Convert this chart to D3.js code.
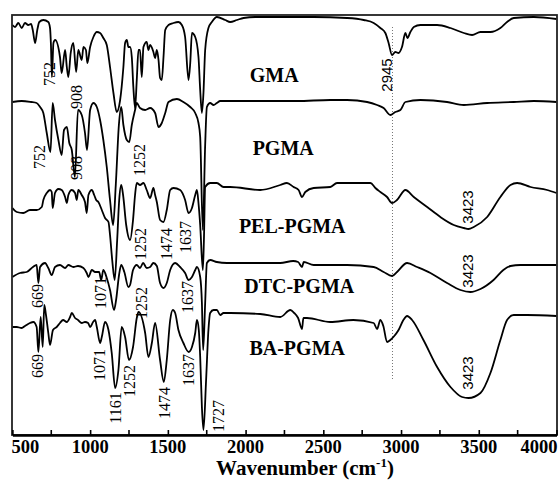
<!DOCTYPE html>
<html><head><meta charset="utf-8">
<script src="https://cdn.jsdelivr.net/npm/d3@7/dist/d3.min.js"></script>
<style>body{margin:0;background:#fff}svg{display:block}</style>
</head><body>
<script>
// ---- DATA: [wavenumber (cm-1), transmittance (a.u., stacked)] ----
const xTickValues = [500,1000,1500,2000,2500,3000,3500,4000];
const xMinorTicks = [750,1250,1750,2250,2750,3250,3750];
const sampleNames = ["GMA","PGMA","PEL-PGMA","DTC-PGMA","BA-PGMA"];
const refLine = 2945;

const GMA = [[500,410],[517,408],[538,412],[560,407],[581,412],[602,410],[620,411],[631,405],[646,392],[660,405],[673,413],[699,415],[731,413],[742,407],[748,390],[754,358],[764,392],[775,395],[806,378],[817,362],[839,385],[850,368],[860,358],[875,382],[892,392],[910,363],[924,385],[946,375],[957,388],[973,385],[982,372],[1000,388],[1021,398],[1043,403],[1064,402],[1085,397],[1107,390],[1128,368],[1150,342],[1171,323],[1193,335],[1214,368],[1225,392],[1236,395],[1246,388],[1257,388],[1268,378],[1278,348],[1289,327],[1300,355],[1311,385],[1321,385],[1332,358],[1343,388],[1364,393],[1375,385],[1386,390],[1407,383],[1418,377],[1429,385],[1440,375],[1450,357],[1461,355],[1472,378],[1483,405],[1504,410],[1536,412],[1568,413],[1590,410],[1611,398],[1633,355],[1644,372],[1655,402],[1676,398],[1697,378],[1708,345],[1719,322],[1729,342],[1740,385],[1761,407],[1783,413],[1815,418],[1869,415],[1901,413],[1944,415],[1987,417],[2062,418],[2223,418],[2438,418],[2653,417],[2760,415],[2824,412],[2867,407],[2899,402],[2920,392],[2942,380],[2963,383],[2984,382],[3006,388],[3028,402],[3041,397],[3060,403],[3082,408],[3125,410],[3232,410],[3318,407],[3404,402],[3457,400],[3511,403],[3575,403],[3639,407],[3682,413],[3725,417],[3854,418],[4000,416]];

const PGMA = [[500,333],[560,334],[620,333],[656,332],[678,328],[699,322],[721,302],[745,283],[759,332],[774,315],[796,295],[817,280],[832,305],[850,308],[866,292],[882,285],[902,258],[922,325],[946,320],[967,302],[980,285],[1000,325],[1021,332],[1043,328],[1064,315],[1085,295],[1107,268],[1128,235],[1148,210],[1165,250],[1185,310],[1200,328],[1214,310],[1236,295],[1252,293],[1268,310],[1289,325],[1300,332],[1321,327],[1354,325],[1386,327],[1418,322],[1440,308],[1461,312],[1483,322],[1504,333],[1558,336],[1600,333],[1644,328],[1676,322],[1697,312],[1708,298],[1725,205],[1740,290],[1751,328],[1772,332],[1794,330],[1815,332],[1837,334],[1900,334],[2100,334],[2331,334],[2545,335],[2653,335],[2782,333],[2846,330],[2888,327],[2931,320],[2963,323],[2996,325],[3028,333],[3125,335],[3296,333],[3404,330],[3554,332],[3725,333],[3854,334],[4000,333]];

const PEL = [[500,227],[528,223],[570,222],[613,225],[656,225],[689,228],[699,235],[721,242],[742,245],[753,243],[759,227],[774,242],[796,246],[817,245],[839,238],[850,232],[860,240],[882,245],[903,242],[914,235],[924,245],[946,240],[967,233],[978,222],[989,240],[1011,245],[1026,240],[1039,235],[1053,233],[1075,225],[1096,217],[1118,213],[1128,200],[1142,175],[1158,155],[1174,195],[1187,235],[1200,250],[1212,240],[1232,210],[1257,195],[1276,215],[1289,240],[1300,252],[1321,250],[1343,252],[1364,245],[1386,237],[1407,247],[1418,240],[1429,233],[1450,215],[1472,213],[1493,225],[1515,245],[1536,247],[1579,245],[1611,235],[1633,222],[1655,227],[1676,240],[1687,245],[1697,232],[1708,210],[1725,165],[1732,195],[1740,248],[1772,252],[1815,252],[1858,248],[1901,248],[2094,245],[2223,250],[2266,252],[2309,248],[2341,245],[2363,238],[2384,243],[2438,247],[2545,248],[2588,252],[2803,252],[2835,247],[2867,243],[2910,238],[2942,232],[2974,235],[3028,245],[3082,238],[3168,228],[3253,218],[3339,210],[3404,207],[3434,206],[3468,208],[3554,218],[3639,238],[3704,250],[3747,252],[3833,248],[3940,245],[4000,242]];

const DTC = [[500,158],[549,162],[592,163],[632,168],[656,170],[667,152],[678,168],[710,172],[731,167],[753,160],[774,168],[806,170],[839,167],[860,170],[892,168],[922,169],[957,167],[978,162],[989,158],[1011,165],[1032,163],[1058,163],[1071,155],[1085,165],[1107,157],[1128,145],[1154,125],[1167,135],[1186,160],[1200,170],[1220,163],[1246,148],[1257,150],[1276,165],[1300,170],[1321,167],[1341,172],[1364,167],[1386,168],[1407,172],[1429,169],[1450,152],[1472,147],[1493,152],[1515,165],[1547,172],[1579,168],[1611,162],[1633,155],[1655,158],[1676,165],[1687,168],[1708,158],[1719,132],[1727,85],[1740,132],[1751,172],[1772,175],[1815,173],[1880,172],[2094,172],[2223,172],[2306,174],[2338,173],[2363,168],[2374,173],[2438,170],[2653,170],[2824,168],[2888,163],[2942,159],[2974,163],[3039,172],[3103,168],[3189,162],[3296,152],[3382,145],[3446,143],[3511,146],[3595,155],[3658,165],[3704,169],[3768,170],[4000,170]];

const BA = [[500,108],[528,108],[560,107],[581,109],[613,112],[635,113],[656,108],[667,83],[682,118],[695,88],[705,130],[716,120],[731,102],[742,90],[761,105],[785,108],[806,112],[826,115],[850,113],[871,118],[882,122],[903,117],[922,115],[946,112],[967,113],[987,112],[1000,108],[1019,113],[1032,115],[1043,108],[1064,92],[1075,98],[1096,113],[1118,105],[1139,82],[1161,47],[1182,65],[1203,108],[1225,98],[1250,75],[1276,88],[1300,117],[1311,123],[1354,102],[1375,78],[1397,92],[1418,112],[1450,75],[1474,53],[1493,75],[1515,115],[1532,125],[1547,122],[1568,105],[1600,92],[1634,83],[1655,88],[1676,102],[1687,115],[1699,105],[1708,78],[1719,28],[1729,5],[1746,55],[1761,105],[1772,122],[1794,125],[1815,125],[1837,120],[1858,122],[1901,122],[2094,121],[2223,118],[2288,125],[2313,122],[2338,117],[2363,106],[2372,117],[2395,117],[2545,113],[2693,115],[2824,112],[2846,106],[2867,115],[2886,109],[2910,93],[2931,95],[2951,98],[2984,105],[3015,115],[3039,119],[3071,115],[3144,95],[3232,68],[3318,48],[3393,38],[3434,37],[3511,42],[3575,62],[3639,95],[3682,115],[3725,120],[3811,120],[4000,119]];

const spectra = [GMA, PGMA, PEL, DTC, BA];

// sample name labels: [wavenumber, value]
const nameAnchors = [[2184,353],[2242,280],[2300,202],[2345,142],[2332,80]];

// peak annotations: [text, wavenumber, value, font]
const peakLabels = [
  ["752",740,361,"s"],["908",910,338,"s"],
  ["752",675,278,"s"],["908",910,267,"s"],["1252",1320,275,"s"],
  ["1252",1321,191,"s"],["1474",1488,191,"s"],["1637",1610,198,"s"],
  ["669",660,139,"s"],["1071",1064,142,"s"],["1252",1327,132,"s"],["1637",1625,138,"s"],
  ["669",660,69,"s"],["1071",1060,70,"s"],["1161",1165,27,"s"],["1252",1250,54,"s"],["1474",1475,32,"s"],["1637",1630,65,"s"],["1727",1822,19,"s"],
  ["2945",2910,360,"a"],["3423",3430,228,"a"],["3423",3430,164,"a"],["3423",3430,62,"a"]
];

// ---- CHART ----
const W = 560, H = 480;
const m = {left:12, top:15, right:557, bottom:435};
const svg = d3.select("body").append("svg").attr("width",W).attr("height",H);
const x = d3.scaleLinear().domain([500,4000]).range([12.4,556.5]);
const y = d3.scaleLinear().domain([0,420]).range([435,15]);

const serif = "'Liberation Serif','Times New Roman',serif";
const sans = "'Liberation Sans',Arial,sans-serif";

// reference dotted line
svg.append("line").attr("x1",x(refLine)).attr("x2",x(refLine))
  .attr("y1",y(408)).attr("y2",y(55))
  .attr("stroke","#777").attr("stroke-width",1).attr("stroke-dasharray","1,2");

const line = d3.line().x(d=>x(d[0])).y(d=>y(d[1])).curve(d3.curveMonotoneX);
svg.append("g").selectAll("path").data(spectra).join("path")
  .attr("d",line).attr("fill","none").attr("stroke","#000")
  .attr("stroke-width",1.8).attr("stroke-linejoin","round");

// frame
svg.append("rect").attr("x",m.left).attr("y",m.top)
  .attr("width",m.right-m.left).attr("height",m.bottom-m.top)
  .attr("fill","none").attr("stroke","#222").attr("stroke-width",1.8);

// bottom axis with inward ticks
const ax = svg.append("g").attr("transform",`translate(0,${m.bottom})`);
ax.call(d3.axisBottom(x).tickValues(xTickValues).tickSizeInner(-5).tickSizeOuter(0).tickFormat(""));
ax.call(g=>g.select(".domain").attr("stroke-width",2.4));
ax.selectAll(".tick line").attr("stroke-width",1.6);
ax.append("g").selectAll("line").data(xMinorTicks).join("line")
  .attr("x1",d=>x(d)).attr("x2",d=>x(d)).attr("y1",0).attr("y2",-5)
  .attr("stroke","#000").attr("stroke-width",1.6);
ax.append("g").selectAll("text").data(xTickValues).join("text")
  .attr("x",d=> d===500 ? x(d)-1 : d===4000 ? x(d)+1 : x(d))
  .attr("y",17.5)
  .attr("text-anchor",d=> d===500 ? "start" : d===4000 ? "end" : "middle")
  .attr("font-family",serif).attr("font-weight","bold").attr("font-size",18.5)
  .attr("fill","#000").text(d=>d);

// axis title
const t = svg.append("text").attr("x",305).attr("y",475).attr("text-anchor","middle")
  .attr("font-family",serif).attr("font-weight","bold").attr("font-size",21).attr("fill","#000");
t.append("tspan").text("Wavenumber (cm");
t.append("tspan").attr("font-size",13).attr("dy",-8).text("-1");
t.append("tspan").attr("dy",8).text(")");

// sample names
svg.append("g").selectAll("text").data(sampleNames).join("text")
  .attr("x",(d,i)=>x(nameAnchors[i][0])).attr("y",(d,i)=>y(nameAnchors[i][1]))
  .attr("text-anchor","middle").attr("font-family",serif).attr("font-weight","bold")
  .attr("font-size",20).attr("fill","#000").text(d=>d);

// peak labels, rotated
svg.append("g").selectAll("text").data(peakLabels).join("text")
  .attr("transform",d=>`translate(${x(d[1])},${y(d[2])}) rotate(-90)`)
  .attr("text-anchor","middle").attr("dy","0.35em")
  .attr("font-family",d=>d[3]==="a"?sans:serif)
  .attr("font-size",d=>d[3]==="a"?15:16).attr("fill","#000").text(d=>d[0]);
</script>
</body></html>
